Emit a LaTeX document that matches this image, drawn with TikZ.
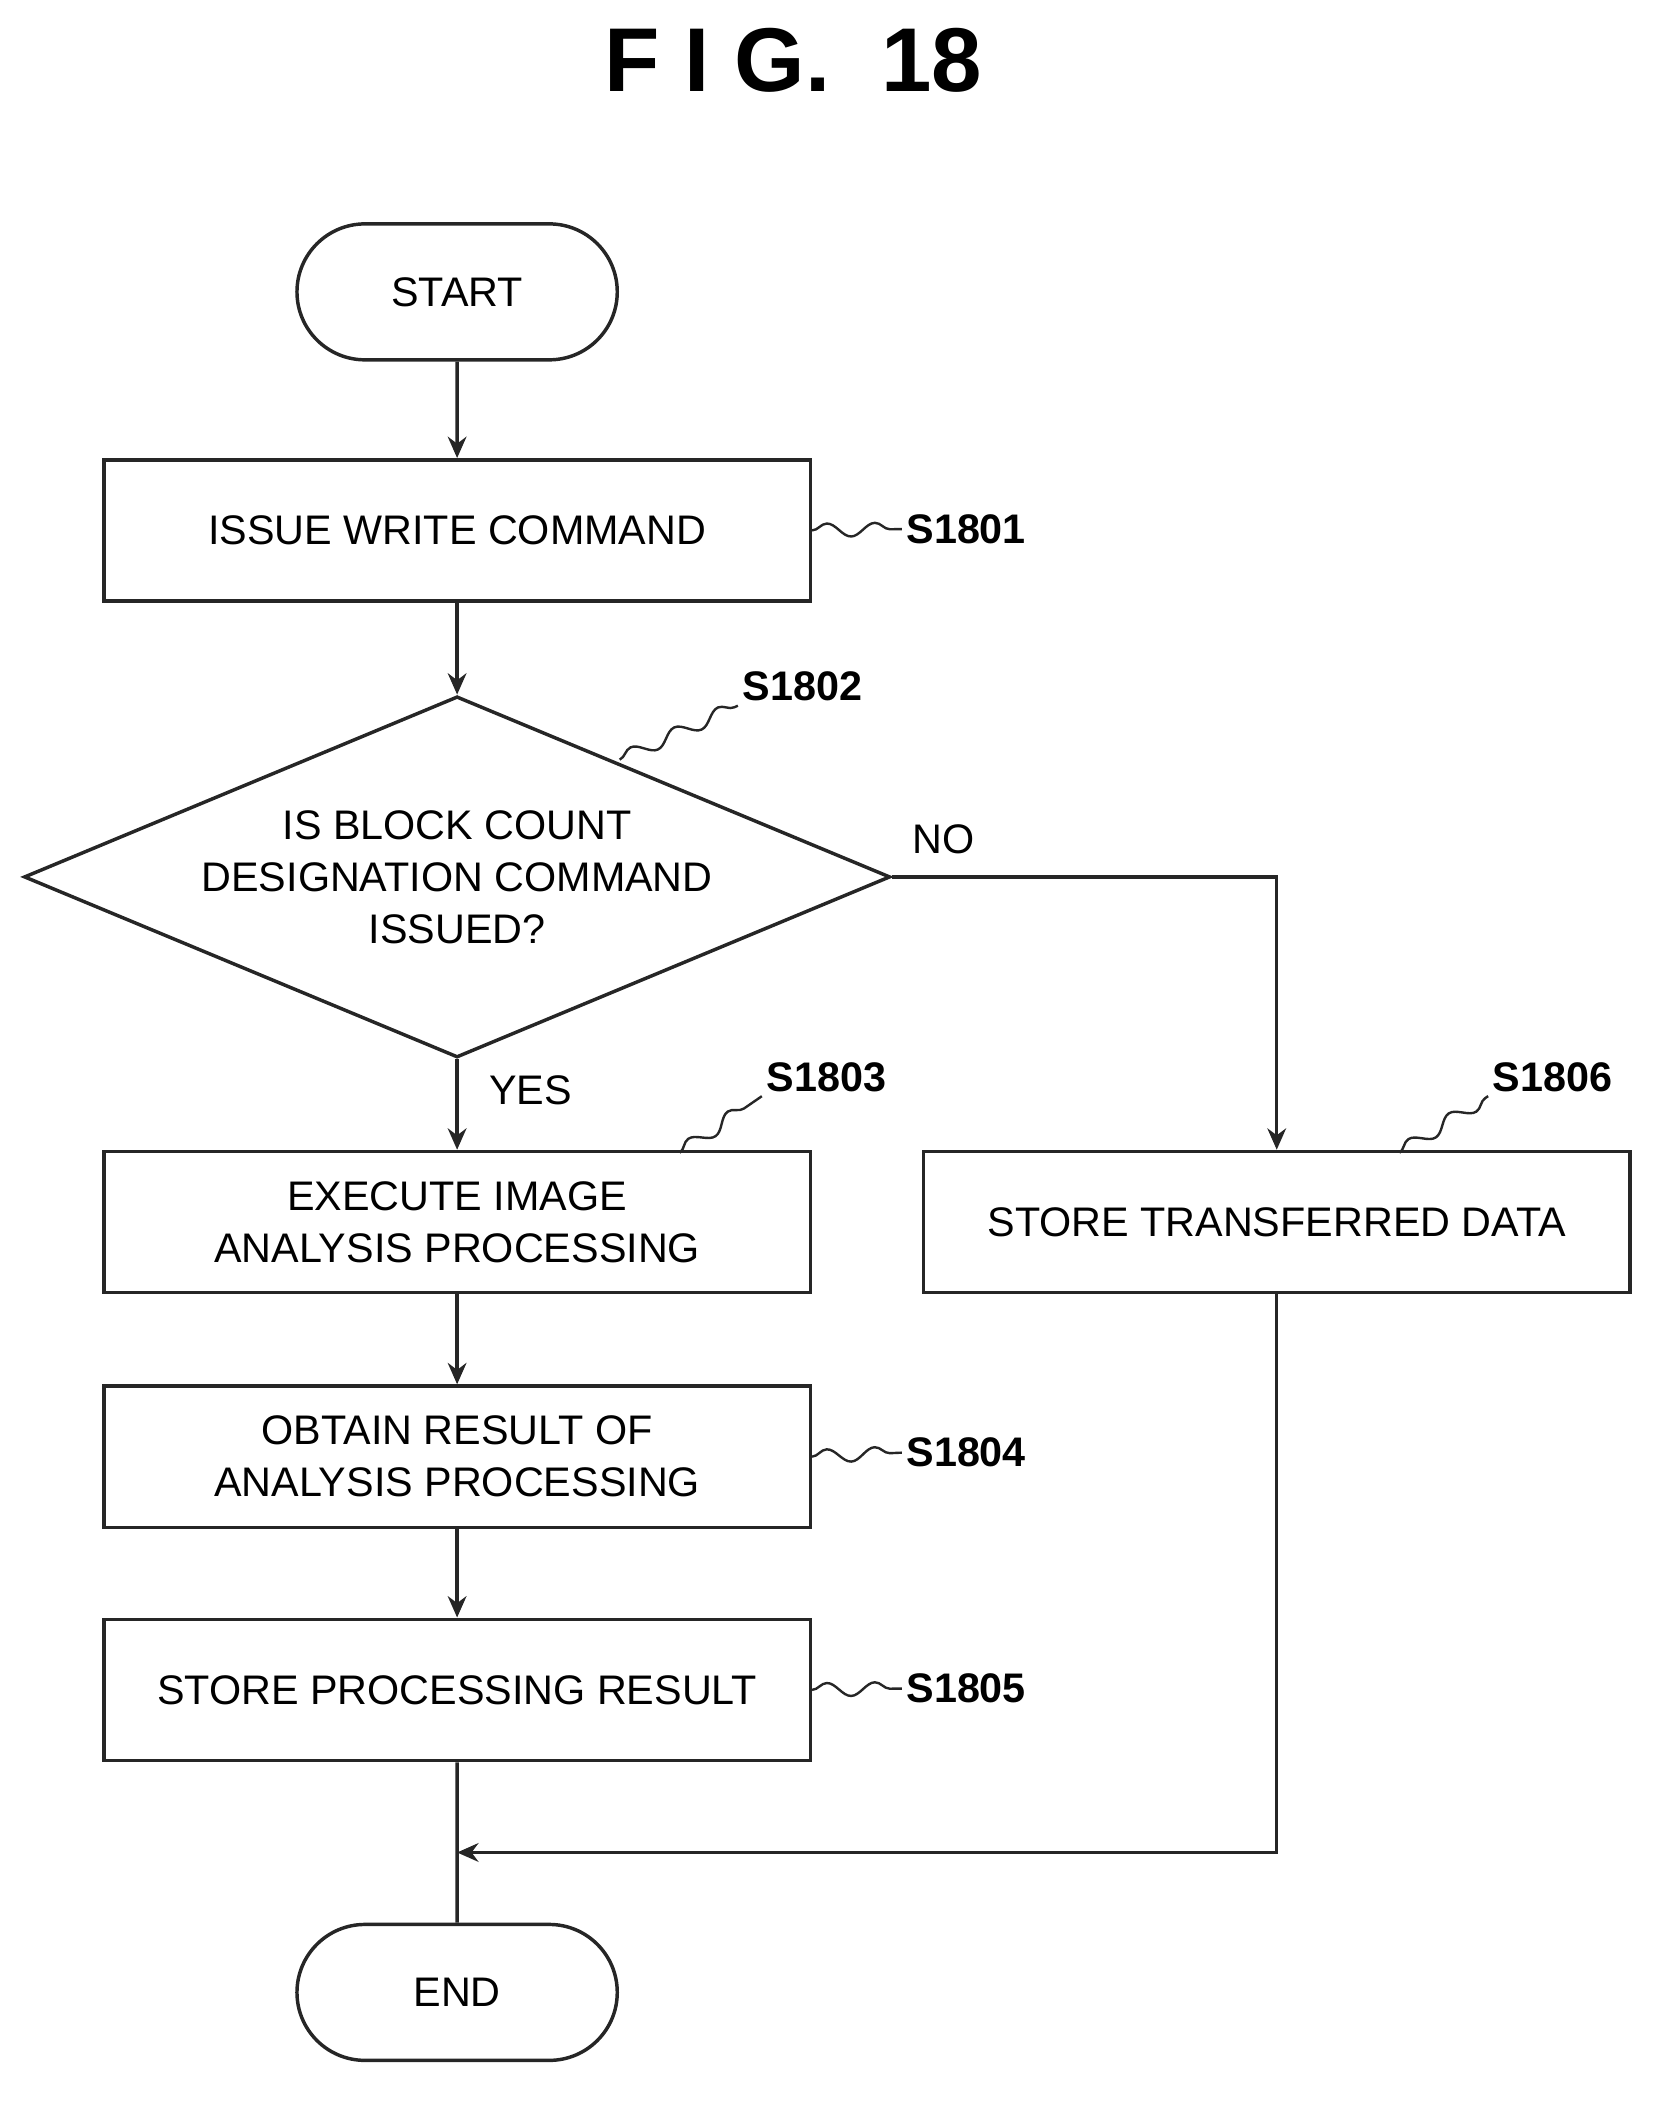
\documentclass[tikz,border=0pt]{standalone}
\usepackage{fontspec}
\setmainfont{Liberation Sans}
\usetikzlibrary{shapes.geometric,shapes.misc,arrows.meta,decorations.pathmorphing}
\begin{document}
\begin{tikzpicture}[x=1pt,y=-1pt,
  ln/.style={line width=2.6pt,draw=black!85},
  box/.style={ln,rectangle,minimum width=530pt,minimum height=106pt,align=center,font=\fontsize{31}{39}\selectfont},
  term/.style={ln,rounded rectangle,minimum width=247pt,minimum height=102pt,font=\fontsize{31}{39}\selectfont},
  lab/.style={font=\bfseries\fontsize{31}{37}\selectfont},
  txt/.style={font=\fontsize{31}{37}\selectfont},
  arr/.style={ln,-{Stealth[length=16pt,width=14pt]}},
  sq/.style={ln,line width=1.8pt,decorate,decoration={snake,amplitude=5pt,segment length=36pt}}]
\useasboundingbox (0,0) rectangle (1250,1581);
\node[font=\bfseries\fontsize{68}{76}\selectfont] (title) at (595,45) {F I G.\ \ 18};
\node[term] (start) at (343,219) {START};
\node[box] (s1) at (343,398) {ISSUE WRITE COMMAND};
\node[ln,diamond,aspect=2.4,minimum width=650pt,minimum height=271pt,inner sep=0pt,align=center,font=\fontsize{31}{39}\selectfont] (d) at (343,658) {IS BLOCK COUNT\\DESIGNATION COMMAND\\ISSUED?};
\node[box] (s3) at (343,917) {EXECUTE IMAGE\\ANALYSIS PROCESSING};
\node[box] (s6) at (958,917) {STORE TRANSFERRED DATA};
\node[box] (s4) at (343,1093) {OBTAIN RESULT OF\\ANALYSIS PROCESSING};
\node[box] (s5) at (343,1268) {STORE PROCESSING RESULT};
\node[term] (end) at (343,1495) {END};
\coordinate (m) at (343,1390);
\draw[arr] (start) -- (s1);
\draw[arr] (s1) -- (d);
\draw[arr] (d) -- (s3);
\draw[arr] (d.east) -| (s6.north);
\draw[arr] (s3) -- (s4);
\draw[arr] (s4) -- (s5);
\draw[ln] (s5) -- (end);
\draw[arr] (s6.south) |- (m);
\node[txt] (no) at (708,630) {NO};
\node[txt] (yes) at (398,818) {YES};
\node[lab] (l1) at (725,397) {S1801};
\node[lab] (l2) at (602,515) {S1802};
\node[lab] (l3) at (620,808) {S1803};
\node[lab] (l4) at (725,1090) {S1804};
\node[lab] (l5) at (725,1267) {S1805};
\node[lab] (l6) at (1165,808) {S1806};
\draw[sq] (s1.east) -- (l1.west);
\draw[sq] (s4.east) -- (l4.west);
\draw[sq] (s5.east) -- (l5.west);
\draw[sq] (465,570) -- (l2.south west);
\draw[sq] (510,865) -- (l3.south west);
\draw[sq] (1050,865) -- (l6.south west);
\end{tikzpicture}
\end{document}
